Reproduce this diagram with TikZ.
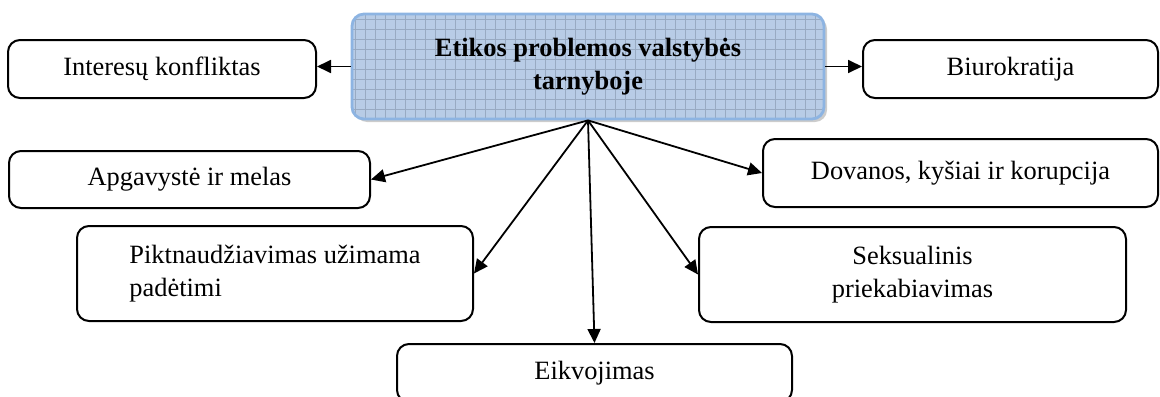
\documentclass[tikz,border=0pt]{standalone}
\usepackage{fontspec}
\setmainfont{Liberation Serif}
\usetikzlibrary{arrows.meta,shadows}
\definecolor{boxblue}{RGB}{184,204,230}
\definecolor{gridblue}{RGB}{152,170,194}
\definecolor{edgeblue}{RGB}{141,180,226}
\begin{document}
\begin{tikzpicture}[x = 0.5pt, y = -0.5pt,
            box/.style = {draw, line width = 1pt, rounded corners = 6pt, inner sep = 0pt,
                font = \fontsize{13.2}{16.5}\selectfont},
            arr/.style = {line width = 0.9pt, -{Triangle[length = 7pt, width = 6.5pt]}}]
            \useasboundingbox (0, 0) rectangle (1160, 396);
            \node [box, draw = edgeblue, line width = 1.4pt, fill = boxblue, align = center,
                minimum width = 236pt, minimum height = 52.5pt,
                font = \fontsize{13.2}{16.5}\selectfont\bfseries,
                drop shadow = {shadow xshift = 1.5pt, shadow yshift = -1.5pt, fill = black!40},
                path picture = {\draw [gridblue, line width = 0.3pt]
                    (path picture bounding box.south west) grid [step = 5pt]
                    (path picture bounding box.north east);}]
                (center) at (588, 66.5) {Etikos problemos valstybės\\tarnyboje};
            \node [box, minimum width = 154pt, minimum height = 29pt] (interest) at (162, 69) {Interesų konfliktas};
            \node [box, minimum width = 147.5pt, minimum height = 29pt] (biuro) at (1010.5, 69) {Biurokratija};
            \node [box, minimum width = 180.5pt, minimum height = 28.5pt] (apgav) at (189.5, 179.5) {Apgavystė ir melas};
            \node [box, minimum width = 197.5pt, minimum height = 34pt] (dovanos) at (960.5, 173) {Dovanos, kyšiai ir korupcija};
            \node [box, align = left, minimum width = 198pt, minimum height = 47.5pt] (pikt) at (275, 273.5) {Piktnaudžiavimas užimama\\padėtimi};
            \node [box, align = center, minimum width = 213.5pt, minimum height = 47.5pt] (seks) at (912.5, 274.5) {Seksualinis\\priekabiavimas};
            \node [box, minimum width = 197.5pt, minimum height = 29pt] (eikv) at (594.5, 373) {Eikvojimas};
            \draw [arr] (center.west) -- (center.west -| interest.east);
            \draw [arr] (center.east) -- (center.east -| biuro.west);
            \draw [arr] (center.south) -- (apgav.east);
            \draw [arr] (center.south) -- (dovanos.west);
            \draw [arr] (center.south) -- (pikt.east);
            \draw [arr] (center.south) -- (seks.west);
            \draw [arr] (center.south) -- (eikv.north);
\end{tikzpicture}
\end{document}
